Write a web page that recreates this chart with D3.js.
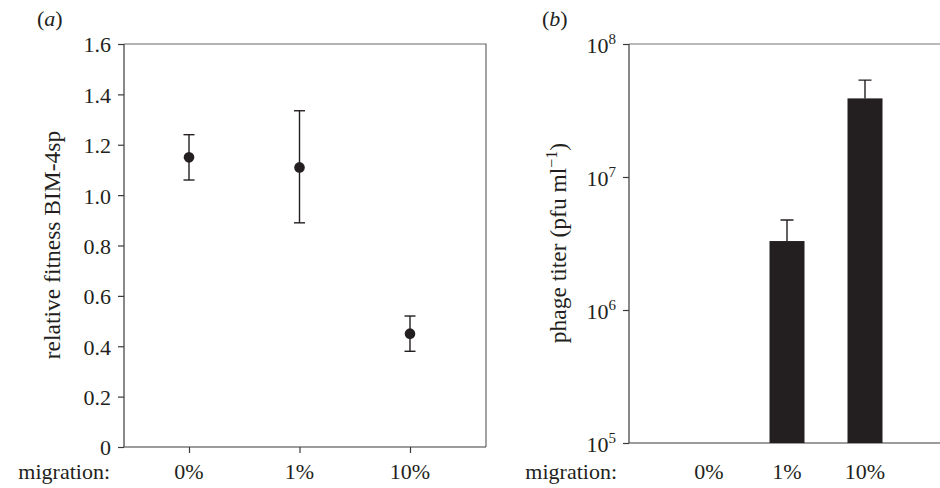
<!DOCTYPE html>
<html>
<head>
<meta charset="utf-8">
<script src="https://cdn.jsdelivr.net/npm/d3@7"></script>
<style>
  body { margin: 0; background: #fff; }
  svg { display: block; font-family: "Liberation Serif", "DejaVu Serif", serif; fill: #231f20; }
  text { fill: #231f20; }
</style>
</head>
<body>
<svg id="chart" width="940" height="488"></svg>
<script>
// data
const categories = ['0%', '1%', '10%'];

// panel a: relative fitness BIM-4sp
const fitness = [1.15, 1.11, 0.45];
const fitnessLow = [1.06, 0.89, 0.38];
const fitnessHigh = [1.24, 1.335, 0.52];
const fitnessTicks = [0, 0.2, 0.4, 0.6, 0.8, 1.0, 1.2, 1.4, 1.6];

// panel b: phage titer (pfu/ml), 0% not detected
const titer = [null, 3.3e6, 3.9e7];
const titerHigh = [null, 4.75e6, 5.35e7];
const titerTicks = [1e5, 1e6, 1e7, 1e8];

const svg = d3.select('#chart');
const ink = '#231f20';
const axisColor = '#3a3a3a';
const fontSize = 22;
const titleSize = 23.5;
const catY = 478.5;

// ---------- panel a ----------
const a = { left: 124, right: 486, top: 44, bottom: 447 };

const xA = d3.scalePoint().domain(categories).range([189, 410]);
const yA = d3.scaleLinear().domain([0, 1.6]).range([a.bottom, a.top]);

const gA = svg.append('g');

// frame
gA.append('path')
    .attr('d', `M${a.left},${a.top}H${a.right}V${a.bottom}`)
    .attr('fill', 'none')
    .attr('stroke', '#666')
    .attr('stroke-width', 1.2);

const yAxisA = d3.axisLeft(yA)
    .tickValues(fitnessTicks)
    .tickSize(6)
    .tickPadding(7)
    .tickFormat(d => d === 0 ? '0' : d3.format('.1f')(d));

gA.append('g')
    .attr('transform', `translate(${a.left},0)`)
    .call(yAxisA)
    .call(g => g.select('.domain').attr('d', `M0,${a.bottom}V${a.top}`))
    .call(styleAxis)
    .call(g => g.selectAll('.tick text').attr('dy', '0.36em'));

const xAxisA = d3.axisBottom(xA).tickSize(6).tickFormat('');
gA.append('g')
    .attr('transform', `translate(0,${a.bottom})`)
    .call(xAxisA)
    .call(g => g.select('.domain').attr('d', `M${a.left},0H${a.right}`))
    .call(styleAxis);

// tick labels for categories
gA.selectAll('.cat')
    .data(categories)
    .join('text')
    .attr('class', 'cat')
    .attr('x', d => xA(d))
    .attr('y', catY)
    .attr('text-anchor', 'middle')
    .attr('font-size', fontSize)
    .text(d => d);

gA.append('text')
    .attr('x', 110)
    .attr('y', catY)
    .attr('text-anchor', 'end')
    .attr('font-size', fontSize)
    .text('migration:');

// error bars + points
const capA = 5.5;
const errA = gA.selectAll('.err')
    .data(categories)
    .join('g')
    .attr('class', 'err')
    .attr('stroke', ink)
    .attr('stroke-width', 1.4);

errA.append('line')
    .attr('x1', d => xA(d)).attr('x2', d => xA(d))
    .attr('y1', (d, i) => yA(fitnessLow[i]))
    .attr('y2', (d, i) => yA(fitnessHigh[i]));
errA.append('line')
    .attr('x1', d => xA(d) - capA).attr('x2', d => xA(d) + capA)
    .attr('y1', (d, i) => yA(fitnessHigh[i]))
    .attr('y2', (d, i) => yA(fitnessHigh[i]));
errA.append('line')
    .attr('x1', d => xA(d) - capA).attr('x2', d => xA(d) + capA)
    .attr('y1', (d, i) => yA(fitnessLow[i]))
    .attr('y2', (d, i) => yA(fitnessLow[i]));

gA.selectAll('.pt')
    .data(categories)
    .join('circle')
    .attr('class', 'pt')
    .attr('cx', d => xA(d))
    .attr('cy', (d, i) => yA(fitness[i]))
    .attr('r', 5.3)
    .attr('fill', ink);

gA.append('text')
    .attr('transform', 'translate(60,245) rotate(-90)')
    .attr('text-anchor', 'middle')
    .attr('font-size', titleSize)
    .text('relative fitness BIM-4sp');

gA.append('text')
    .attr('x', 37)
    .attr('y', 26)
    .attr('font-size', fontSize)
    .html('(<tspan font-style="italic">a</tspan>)');

// ---------- panel b ----------
const b = { left: 629, right: 940, top: 44, bottom: 443 };

const xB = d3.scalePoint().domain(categories).range([709, 865]);
const yB = d3.scaleLog().domain([1e5, 1e8]).range([b.bottom, b.top]);
const barW = 35;

const gB = svg.append('g');

gB.append('line')
    .attr('x1', b.left).attr('x2', b.right)
    .attr('y1', b.top).attr('y2', b.top)
    .attr('stroke', '#777')
    .attr('stroke-width', 1.2);

const yAxisB = d3.axisLeft(yB)
    .tickValues(titerTicks)
    .tickSize(6)
    .tickFormat('');

gB.append('g')
    .attr('transform', `translate(${b.left},0)`)
    .call(yAxisB)
    .call(g => g.select('.domain').attr('d', `M0,${b.bottom}V${b.top}`))
    .call(styleAxis);

// log tick labels as 10 with superscript exponent
const expLabels = gB.selectAll('.exp')
    .data(titerTicks)
    .join('text')
    .attr('class', 'exp')
    .attr('x', b.left - 13)
    .attr('y', d => yB(d) + 8.5)
    .attr('text-anchor', 'end')
    .attr('font-size', fontSize);
expLabels.append('tspan').text('10');
expLabels.append('tspan')
    .attr('font-size', 15)
    .attr('dy', -9)
    .text(d => Math.round(Math.log10(d)));

gB.append('line')
    .attr('x1', b.left).attr('x2', b.right)
    .attr('y1', b.bottom).attr('y2', b.bottom)
    .attr('stroke', axisColor)
    .attr('stroke-width', 1.2);

const barData = categories.map((c, i) => ({ c, v: titer[i], hi: titerHigh[i] }))
    .filter(d => d.v != null);

gB.selectAll('.err')
    .data(barData)
    .join('path')
    .attr('class', 'err')
    .attr('d', d => `M${xB(d.c)},${yB(d.v)}V${yB(d.hi)}M${xB(d.c) - 6.5},${yB(d.hi)}H${xB(d.c) + 6.5}`)
    .attr('stroke', ink)
    .attr('stroke-width', 1.4)
    .attr('fill', 'none');

gB.selectAll('.bar')
    .data(barData)
    .join('rect')
    .attr('class', 'bar')
    .attr('x', d => xB(d.c) - barW / 2)
    .attr('width', barW)
    .attr('y', d => yB(d.v))
    .attr('height', d => b.bottom - yB(d.v))
    .attr('fill', ink);

gB.selectAll('.cat')
    .data(categories)
    .join('text')
    .attr('class', 'cat')
    .attr('x', d => xB(d))
    .attr('y', catY)
    .attr('text-anchor', 'middle')
    .attr('font-size', fontSize)
    .text(d => d);

gB.append('text')
    .attr('x', 617)
    .attr('y', catY)
    .attr('text-anchor', 'end')
    .attr('font-size', fontSize)
    .text('migration:');

const yLabB = gB.append('text')
    .attr('transform', 'translate(566,243) rotate(-90)')
    .attr('text-anchor', 'middle')
    .attr('font-size', titleSize);
yLabB.append('tspan').text('phage titer (pfu ml');
yLabB.append('tspan').attr('font-size', 16).attr('dy', -9).text('\u22121');
yLabB.append('tspan').attr('dy', 9).text(')');

gB.append('text')
    .attr('x', 542)
    .attr('y', 26)
    .attr('font-size', fontSize)
    .html('(<tspan font-style="italic">b</tspan>)');

function styleAxis(g) {
    g.select('.domain').attr('stroke', axisColor).attr('stroke-width', 1.2);
    g.selectAll('.tick line').attr('stroke', axisColor).attr('stroke-width', 1.2);
    g.selectAll('.tick text')
        .attr('font-size', fontSize)
        .attr('font-family', '"Liberation Serif", serif')
        .attr('fill', ink);
}
</script>
</body>
</html>
